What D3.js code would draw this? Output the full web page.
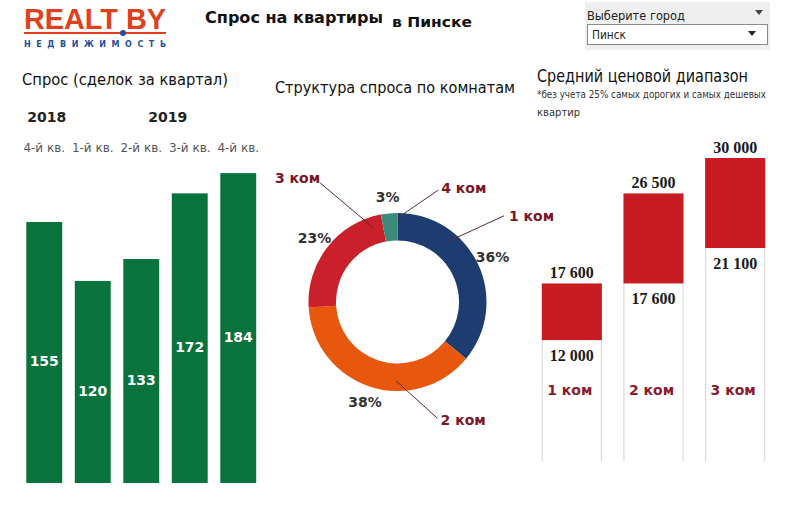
<!DOCTYPE html>
<html><head><meta charset="utf-8">
<script src="https://cdn.jsdelivr.net/npm/d3@7"></script>
<style>body{margin:0;background:#fff}svg{display:block}</style>
</head><body>
<script>
// ---- data ----
const quarters = ["4-й кв.", "1-й кв.", "2-й кв.", "3-й кв.", "4-й кв."];
const years = ["2018", "2019"];
const deals = [155, 120, 133, 172, 184];

const rooms = ["1 ком", "2 ком", "3 ком", "4 ком"];
const roomShare = [36, 38, 23, 3];

const priceRooms = ["1 ком", "2 ком", "3 ком"];
const priceLow = [12000, 17600, 21100];
const priceHigh = [17600, 26500, 30000];

const W = 800, H = 505;
const svg = d3.select("body").append("svg").attr("width", W).attr("height", H);
const sans = "DejaVu Sans, Verdana, sans-serif";

// ---- logo ----
svg.append("text").attr("x", 24).attr("y", 29)
  .attr("font-family", "Liberation Sans Narrow, Liberation Sans, Arial, sans-serif")
  .attr("font-weight", "bold").attr("font-size", 30).attr("fill", "#e0401c")
  .attr("textLength", 142).attr("lengthAdjust", "spacingAndGlyphs").text("REALT BY");
svg.append("rect").attr("x", 24).attr("y", 32).attr("width", 142).attr("height", 2).attr("fill", "#e0401c");
svg.append("circle").attr("cx", 123).attr("cy", 33).attr("r", 3).attr("fill", "#1f4e9c");
svg.append("text").attr("x", 24).attr("y", 47).attr("font-family", sans).attr("font-weight", "bold")
  .attr("font-size", 8).attr("fill", "#1f4e9c").attr("textLength", 142).attr("lengthAdjust", "spacing")
  .text("НЕДВИЖИМОСТЬ");

// ---- title ----
svg.append("text").attr("x", 205).attr("y", 23).attr("font-family", sans).attr("font-weight", "bold")
  .attr("font-size", 15).attr("fill", "#111").attr("textLength", 178).attr("lengthAdjust", "spacingAndGlyphs")
  .text("Спрос на квартиры");
svg.append("text").attr("x", 392).attr("y", 27).attr("font-family", sans).attr("font-weight", "bold")
  .attr("font-size", 14).attr("fill", "#111").attr("textLength", 80).attr("lengthAdjust", "spacingAndGlyphs")
  .text("в Пинске");

// ---- dropdown ----
svg.append("rect").attr("x", 585).attr("y", 2).attr("width", 185).attr("height", 48).attr("fill", "#efefef");
svg.append("text").attr("x", 587).attr("y", 20).attr("font-family", sans).attr("font-size", 13)
  .attr("fill", "#222").attr("textLength", 98).attr("lengthAdjust", "spacingAndGlyphs").text("Выберите город");
svg.append("path").attr("d", "M755,10 L763,10 L759,15 Z").attr("fill", "#444");
svg.append("rect").attr("x", 587.5).attr("y", 24.5).attr("width", 180).attr("height", 20)
  .attr("fill", "#fff").attr("stroke", "#8a8a8a");
svg.append("text").attr("x", 592).attr("y", 39).attr("font-family", sans).attr("font-size", 13)
  .attr("fill", "#222").attr("textLength", 34).attr("lengthAdjust", "spacingAndGlyphs").text("Пинск");
svg.append("path").attr("d", "M748,31 L756,31 L752,36 Z").attr("fill", "#222");

// ---- left: demand bars ----
svg.append("text").attr("x", 22).attr("y", 85).attr("font-family", sans).attr("font-size", 16)
  .attr("fill", "#111").attr("textLength", 206).attr("lengthAdjust", "spacingAndGlyphs")
  .text("Спрос (сделок за квартал)");

const xb = d3.scaleBand().domain(d3.range(deals.length)).range([20, 262.5]).paddingInner(0.26).paddingOuter(0.13);
const yb = d3.scaleLinear().domain([0, 200]).range([483, 146.2]);

// year labels
const yearIdx = [0, 2];
const yearShift = [1, 25];
svg.selectAll(".yr").data(years).join("text")
  .attr("x", (d, i) => xb(yearIdx[i]) + yearShift[i]).attr("y", 122)
  .attr("font-family", sans).attr("font-weight", "bold").attr("font-size", 14).attr("fill", "#222")
  .text(d => d);

const xAxis = d3.axisTop(xb).tickSize(0).tickPadding(0).tickFormat(i => quarters[i]);
const gx = svg.append("g").attr("transform", "translate(0,152)").call(xAxis);
gx.select(".domain").remove();
gx.selectAll("text").attr("font-family", sans).attr("font-size", 12).attr("fill", "#555");

svg.selectAll(".bar").data(deals).join("rect")
  .attr("x", (d, i) => xb(i)).attr("width", xb.bandwidth())
  .attr("y", d => yb(d)).attr("height", d => yb(0) - yb(d)).attr("fill", "#08733d");
svg.selectAll(".barlbl").data(deals).join("text")
  .attr("x", (d, i) => xb(i) + xb.bandwidth() / 2)
  .attr("y", d => (yb(d) + yb(0)) / 2 + 14)
  .attr("text-anchor", "middle").attr("font-family", sans).attr("font-weight", "bold")
  .attr("font-size", 14).attr("fill", "#fff").text(d => d);

// ---- middle: donut ----
svg.append("text").attr("x", 275).attr("y", 93).attr("font-family", sans).attr("font-size", 15)
  .attr("fill", "#111").attr("textLength", 240).attr("lengthAdjust", "spacingAndGlyphs")
  .text("Структура спроса по комнатам");

const cx = 397.5, cy = 302, rOut = 89, rIn = 61.5;
const colors = d3.scaleOrdinal().domain(rooms).range(["#1d3c70", "#e8570e", "#c9202b", "#3b8a7a"]);
const pie = d3.pie().sort(null).value(d => d.v);
const arcs = pie(rooms.map((r, i) => ({ r, v: roomShare[i] })));
const arc = d3.arc().innerRadius(rIn).outerRadius(rOut);
const gd = svg.append("g").attr("transform", `translate(${cx},${cy})`);
gd.selectAll("path").data(arcs).join("path").attr("d", arc).attr("fill", d => colors(d.data.r));

const polar = (a, r) => [Math.sin(a * Math.PI / 180) * r, -Math.cos(a * Math.PI / 180) * r];
gd.selectAll(".pct").data(arcs).join("text")
  .attr("x", d => polar((d.startAngle + d.endAngle) / 2 * 180 / Math.PI, rOut + 16)[0])
  .attr("y", d => polar((d.startAngle + d.endAngle) / 2 * 180 / Math.PI, rOut + 16)[1] + 5)
  .attr("text-anchor", "middle").attr("font-family", sans).attr("font-weight", "bold")
  .attr("font-size", 14).attr("fill", "#333").text(d => d.data.v + "%");

// callout layout (angles in degrees, radii from donut centre)
const callout = [
  { a0: 40, r0: 79, a1: 51, r1: 137, anchor: "start", dx: 5, dy: 5 },
  { a0: 181, r0: 79, a1: 161, r1: 123, anchor: "start", dx: 3, dy: 7 },
  { a0: 342, r0: 78, a1: 327, r1: 142, anchor: "end", dx: 0, dy: 0 },
  { a0: 0, r0: 84, a1: 20, r1: 119, anchor: "start", dx: 3, dy: 3 }
];
arcs.forEach((d, i) => {
  const c = callout[i];
  const p0 = polar(c.a0, c.r0), p1 = polar(c.a1, c.r1);
  gd.append("line").attr("x1", p0[0]).attr("y1", p0[1]).attr("x2", p1[0]).attr("y2", p1[1])
    .attr("stroke", "#5a2a3a").attr("stroke-width", 1);
  gd.append("text").attr("x", p1[0] + c.dx).attr("y", p1[1] + c.dy).attr("text-anchor", c.anchor)
    .attr("font-family", sans).attr("font-weight", "bold").attr("font-size", 14).attr("fill", "#7d1425")
    .text(d.data.r);
});

// ---- right: price range ----
svg.append("text").attr("x", 537).attr("y", 82).attr("font-family", sans).attr("font-size", 17)
  .attr("fill", "#111").attr("textLength", 211).attr("lengthAdjust", "spacingAndGlyphs")
  .text("Средний ценовой диапазон");
svg.append("text").attr("x", 537).attr("y", 98).attr("font-family", sans).attr("font-size", 10)
  .attr("fill", "#333").attr("textLength", 229).attr("lengthAdjust", "spacingAndGlyphs")
  .text("*без учета 25% самых дорогих и самых дешевых");
svg.append("text").attr("x", 537).attr("y", 116).attr("font-family", sans).attr("font-size", 10)
  .attr("fill", "#333").text("квартир");

const xp = d3.scaleBand().domain(priceRooms).range([531, 776]).paddingInner(0.264).paddingOuter(0.132);
const yp = d3.scaleLinear().domain([0, 30000]).range([461.5, 158]);
const fmt = v => d3.format(",")(v).replace(/,/g, " ");
const gp = svg.append("g");
priceRooms.forEach((r, i) => {
  const x = xp(r), w = xp.bandwidth();
  [x + 0.5, x + w - 0.5].forEach(lx => {
    gp.append("line").attr("x1", lx).attr("x2", lx).attr("y1", yp(priceLow[i])).attr("y2", yp(0))
      .attr("stroke", "#e2d8dc").attr("stroke-width", 1.2);
  });
  gp.append("rect").attr("x", x).attr("width", w).attr("y", yp(priceHigh[i]))
    .attr("height", yp(priceLow[i]) - yp(priceHigh[i])).attr("fill", "#c71c21");
  gp.append("text").attr("x", x + w / 2).attr("y", yp(priceHigh[i]) - 5).attr("text-anchor", "middle")
    .attr("font-family", "Liberation Serif, Times New Roman, serif").attr("font-weight", "bold")
    .attr("font-size", 16).attr("fill", "#1a1a1a").text(fmt(priceHigh[i]));
  gp.append("text").attr("x", x + w / 2).attr("y", yp(priceLow[i]) + 21).attr("text-anchor", "middle")
    .attr("font-family", "Liberation Serif, Times New Roman, serif").attr("font-weight", "bold")
    .attr("font-size", 16).attr("fill", "#1a1a1a").text(fmt(priceLow[i]));
  gp.append("text").attr("x", x + w / 2 - 2).attr("y", 395).attr("text-anchor", "middle")
    .attr("font-family", sans).attr("font-weight", "bold").attr("font-size", 14).attr("fill", "#8b1a2b")
    .text(r);
});
</script>
</body></html>
